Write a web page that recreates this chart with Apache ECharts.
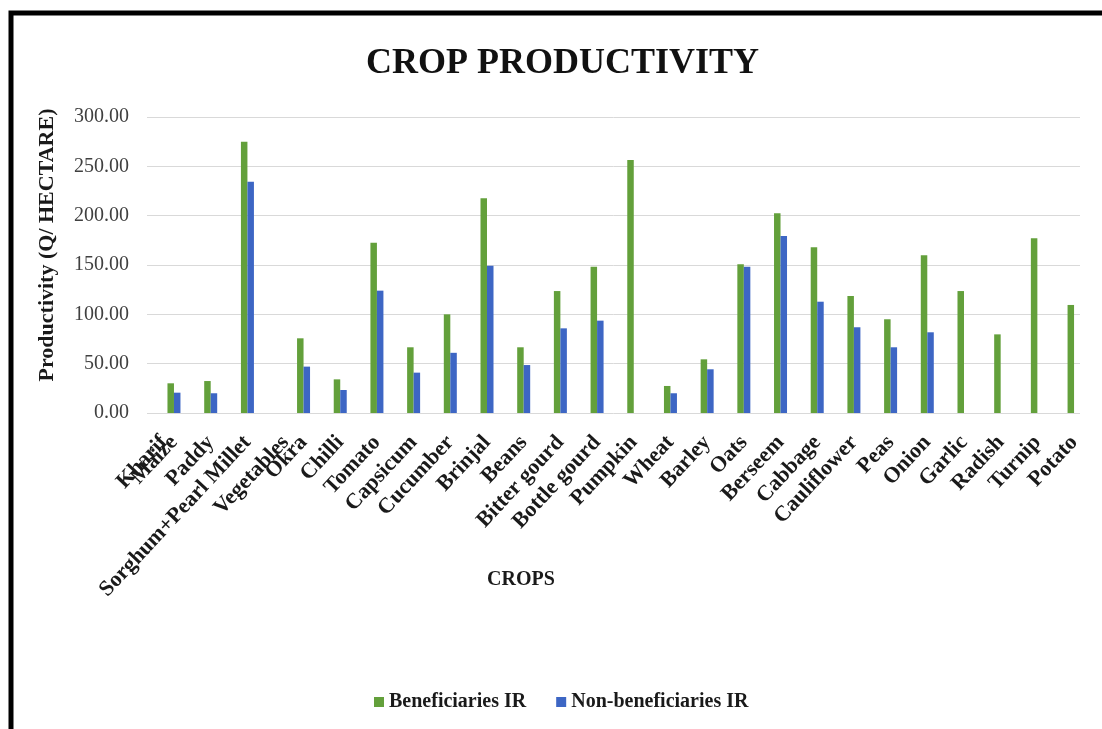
<!DOCTYPE html>
<html>
<head>
<meta charset="utf-8">
<title>Crop Productivity</title>
<script src="https://cdn.jsdelivr.net/npm/echarts@6/dist/echarts.min.js"></script>
<style>
  html, body { margin: 0; padding: 0; background: #fff; }
  #main { width: 1102px; height: 729px; }
</style>
</head>
<body>
<div id="main"></div>
<script>
// Series names
const benefName = 'Beneficiaries IR';
const nonName = 'Non-beneficiaries IR';

// Group headers shown on the category axis
const groupHeaders = ['Kharif', 'Vegetables'];

// Kharif group
const kharifCrops = ['Maize', 'Paddy', 'Sorghum+Pearl Millet'];
const kharifBenef = [30.1, 32.4, 275.0];
const kharifNon = [20.6, 20.0, 234.4];

// Vegetables (and remaining) group
const vegCrops = ['Okra', 'Chilli', 'Tomato', 'Capsicum', 'Cucumber', 'Brinjal', 'Beans',
  'Bitter gourd', 'Bottle gourd', 'Pumpkin', 'Wheat', 'Barley', 'Oats', 'Berseem',
  'Cabbage', 'Cauliflower', 'Peas', 'Onion', 'Garlic', 'Radish', 'Turnip', 'Potato'];
const vegBenef = [75.7, 34.1, 172.6, 66.6, 100.0, 217.6, 66.6, 123.6, 148.3, 256.4,
  27.4, 54.4, 150.7, 202.4, 167.9, 118.6, 95.0, 159.8, 123.6, 79.7, 177.0, 109.5];
const vegNon = [47.0, 23.3, 124.0, 40.9, 61.0, 149.3, 48.6, 85.8, 93.6, null,
  20.0, 44.3, 148.3, 179.4, 112.8, 86.9, 66.6, 81.8, null, null, null, null];

// Value axis ticks
const yMin = 0, yMax = 300, yStep = 50;

const FONT = '"Liberation Serif", "Times New Roman", serif';
const GREEN = '#63a03b';
const BLUE = '#3d66c4';
const LABEL_MARGIN = 26;
const LABEL_ROTATE = 47;
const LABEL_SIZE = 22;

const chart = echarts.init(document.getElementById('main'), null, { renderer: 'canvas' });

const catLabel = {
  interval: 0,
  rotate: LABEL_ROTATE,
  margin: LABEL_MARGIN,
  fontFamily: FONT,
  fontWeight: 'bold',
  fontSize: LABEL_SIZE,
  color: '#1a1a1a'
};

function barSeries(name, data, axis, color) {
  return {
    type: 'bar',
    name: name,
    xAxisIndex: axis,
    yAxisIndex: axis,
    data: data,
    barWidth: 6.5,
    barGap: '0%',
    itemStyle: { color: color }
  };
}

chart.setOption({
  backgroundColor: '#ffffff',
  animation: false,
  title: {
    text: 'CROP PRODUCTIVITY',
    left: 361,
    top: 41,
    textStyle: { fontFamily: FONT, fontWeight: 'bold', fontSize: 36, color: '#111' }
  },
  legend: {
    data: [benefName, nonName],
    left: 369,
    top: 687,
    icon: 'rect',
    itemWidth: 10,
    itemHeight: 10,
    itemGap: 30,
    textStyle: { fontFamily: FONT, fontWeight: 'bold', fontSize: 20, color: '#1a1a1a' }
  },
  grid: [
    { left: 147, top: 117, width: 933, height: 296 },
    { left: 155.6, top: 117, width: 110.2, height: 296 },
    { left: 285.2, top: 117, width: 807.2, height: 296 }
  ],
  xAxis: [
    { gridIndex: 0, type: 'category', data: [''], show: false },
    { gridIndex: 1, type: 'category', data: kharifCrops,
      axisLine: { show: false }, axisTick: { show: false }, axisLabel: catLabel },
    { gridIndex: 2, type: 'category', data: vegCrops,
      axisLine: { show: false }, axisTick: { show: false }, axisLabel: catLabel }
  ],
  yAxis: [
    { gridIndex: 0, type: 'value', min: yMin, max: yMax, interval: yStep,
      axisLine: { show: false }, axisTick: { show: false },
      axisLabel: { formatter: v => v.toFixed(2), fontFamily: FONT, fontSize: 20,
        color: '#404040', margin: 18 },
      splitLine: { lineStyle: { color: '#d9d9d9', width: 1 } } },
    { gridIndex: 1, type: 'value', min: yMin, max: yMax, show: false },
    { gridIndex: 2, type: 'value', min: yMin, max: yMax, show: false }
  ],
  series: [
    barSeries(benefName, kharifBenef, 1, GREEN),
    barSeries(nonName, kharifNon, 1, BLUE),
    barSeries(benefName, vegBenef, 2, GREEN),
    barSeries(nonName, vegNon, 2, BLUE)
  ]
});

// Group headers sit just before the first crop of each group
const baseY = chart.convertToPixel({ yAxisIndex: 1 }, 0) + LABEL_MARGIN;
const kharifX = chart.convertToPixel({ xAxisIndex: 1 }, kharifCrops[0]) - 10;
const vegX = chart.convertToPixel({ xAxisIndex: 2 }, vegCrops[0]) - 18;

function headerText(text, x) {
  return {
    type: 'text', x: x, y: baseY, rotation: LABEL_ROTATE * Math.PI / 180, z: 10,
    style: { text: text, font: 'bold ' + LABEL_SIZE + 'px ' + FONT, fill: '#1a1a1a',
      align: 'right', verticalAlign: 'middle', textAlign: 'right', textVerticalAlign: 'middle' }
  };
}

chart.setOption({
  graphic: [
    { type: 'rect', z: 100, silent: true,
      shape: { x: 11, y: 13, width: 1300, height: 900 },
      style: { fill: 'none', stroke: '#000', lineWidth: 5 } },
    headerText(groupHeaders[0], kharifX),
    headerText(groupHeaders[1], vegX),
    { type: 'text', x: 47, y: 245, rotation: Math.PI / 2, z: 10,
      style: { text: 'Productivity (Q/ HECTARE)', font: 'bold 22px ' + FONT, fill: '#1a1a1a',
        align: 'center', verticalAlign: 'middle', textAlign: 'center', textVerticalAlign: 'middle' } },
    { type: 'text', x: 521, y: 580, z: 10,
      style: { text: 'CROPS', font: 'bold 20px ' + FONT, fill: '#1a1a1a',
        align: 'center', verticalAlign: 'middle', textAlign: 'center', textVerticalAlign: 'middle' } }
  ]
});
</script>
</body>
</html>
